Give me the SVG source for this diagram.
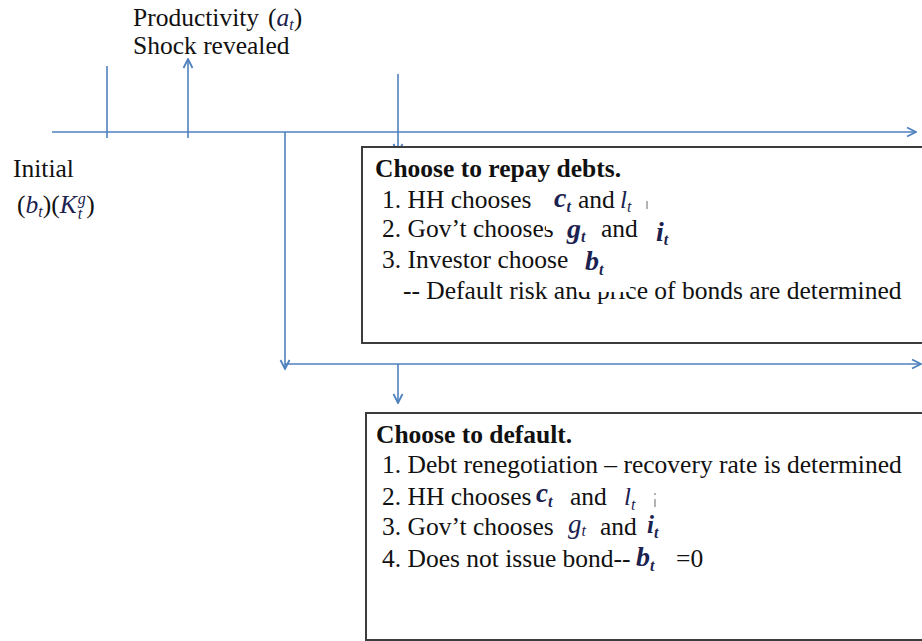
<svg xmlns="http://www.w3.org/2000/svg" width="922" height="641" viewBox="0 0 922 641">
<defs>
<marker id="arr" viewBox="0 0 12 12" refX="11" refY="6" markerWidth="12" markerHeight="12" markerUnits="userSpaceOnUse" orient="auto">
<path d="M2,1.5 L11,6 L2,10.5" fill="none" stroke="#4f81bd" stroke-width="1.8"/>
</marker>
<style>
.ln{stroke:#4f81bd;stroke-width:1.6;fill:none}
.box{fill:#fff;stroke:#3c3c3c;stroke-width:2}
.t{font-family:"Liberation Serif","Times New Roman",serif;font-size:25.5px;fill:#111}
.b{font-weight:bold}
.m{font-family:"Liberation Serif","Times New Roman",serif;font-style:italic;fill:#1c2250}
.mb{font-weight:bold;font-size:28px}
.mr{font-size:25px}
.ms{font-size:16px}
.tick{stroke:#9a9a9a;stroke-width:1.5}
</style>
</defs>
<g id="connectors">
<path class="ln" d="M52,132 H916" marker-end="url(#arr)"/>
<path class="ln" d="M107,66 V138"/>
<path class="ln" d="M188,138 V59" marker-end="url(#arr)"/>
<path class="ln" d="M398,74 V153" marker-end="url(#arr)"/>
<path class="ln" d="M285,132 V369" marker-end="url(#arr)"/>
<path class="ln" d="M285,364 H921" marker-end="url(#arr)"/>
<path class="ln" d="M398,364 V403" marker-end="url(#arr)"/>
</g>
<g id="shock-label">
<text class="t" x="133" y="26">Productivity</text>
<text class="t" x="268" y="26">(<tspan class="m" fill="#222">a</tspan><tspan class="m ms" fill="#222" dy="4">t</tspan><tspan dy="-4">)</tspan></text>
<text class="t" x="133" y="54">Shock revealed</text>
</g>
<g id="initial-label">
<text class="t" x="13" y="177">Initial</text>
<text class="t" x="17" y="213" font-size="26">(<tspan class="m" fill="#222">b</tspan><tspan class="m ms" fill="#222" dy="4">t</tspan><tspan dy="-4">)(</tspan><tspan class="m" fill="#222">K</tspan><tspan class="m ms" fill="#222" dx="1" dy="-9">g</tspan><tspan class="m ms" fill="#222" dx="-8" dy="15">t</tspan><tspan dx="4" dy="-6">)</tspan></text>
</g>
<g id="repay-box">
<rect class="box" x="362" y="147" width="600" height="196"/>
<text class="t b" x="375" y="177">Choose to repay debts.</text>
<text class="t" x="382" y="208">1. HH chooses</text>
<text class="m mb" x="554" y="207">c<tspan class="ms" dy="5">t</tspan></text>
<text class="t" x="578" y="208">and</text>
<text class="m mr" x="620" y="208">l<tspan class="ms" dy="4">t</tspan></text>
<line class="tick" x1="647" y1="201" x2="647" y2="209"/>
<text class="t" x="382" y="237">2. Gov’t chooses</text>
<rect x="546" y="221" width="11" height="9" fill="#fff"/>
<text class="m mb" x="567" y="238">g<tspan class="ms" dy="4">t</tspan></text>
<text class="t" x="601" y="237">and</text>
<text class="m mb" x="656" y="241">i<tspan class="ms" dy="4">t</tspan></text>
<text class="t" x="382" y="268">3. Investor choose</text>
<text class="t" x="403" y="299">-- Default risk and price of bonds are determined</text>
<rect x="576" y="272" width="54" height="20" fill="#fff"/>
<text class="m mb" x="585" y="270">b<tspan class="ms" dy="5">t</tspan></text>
</g>
<g id="default-box">
<rect class="box" x="366" y="413" width="600" height="227"/>
<text class="t b" x="376" y="443">Choose to default.</text>
<text class="t" x="382" y="473">1. Debt renegotiation – recovery rate is determined</text>
<text class="t" x="382" y="505">2. HH chooses</text>
<text class="m" x="536" y="502" font-size="27" font-weight="bold">c<tspan class="ms" dy="5">t</tspan></text>
<text class="t" x="570" y="505">and</text>
<text class="m mr" x="624" y="505">l<tspan class="ms" dy="5">t</tspan></text>
<line class="tick" x1="655" y1="499" x2="655" y2="507"/>
<circle cx="655" cy="494" r="1" fill="#9a9a9a"/>
<text class="t" x="382" y="535">3. Gov’t chooses</text>
<text class="m" x="568" y="533" font-size="27" fill="#2a3470">g<tspan class="ms" dy="3">t</tspan></text>
<text class="t" x="600" y="535">and</text>
<text class="m mr" x="647" y="533" font-weight="bold">i<tspan class="ms" dy="5">t</tspan></text>
<text class="t" x="382" y="567">4. Does not issue bond--</text>
<text class="m mb" x="636" y="566">b<tspan class="ms" dy="5">t</tspan></text>
<text class="t" x="676" y="567">=0</text>
</g>
</svg>
